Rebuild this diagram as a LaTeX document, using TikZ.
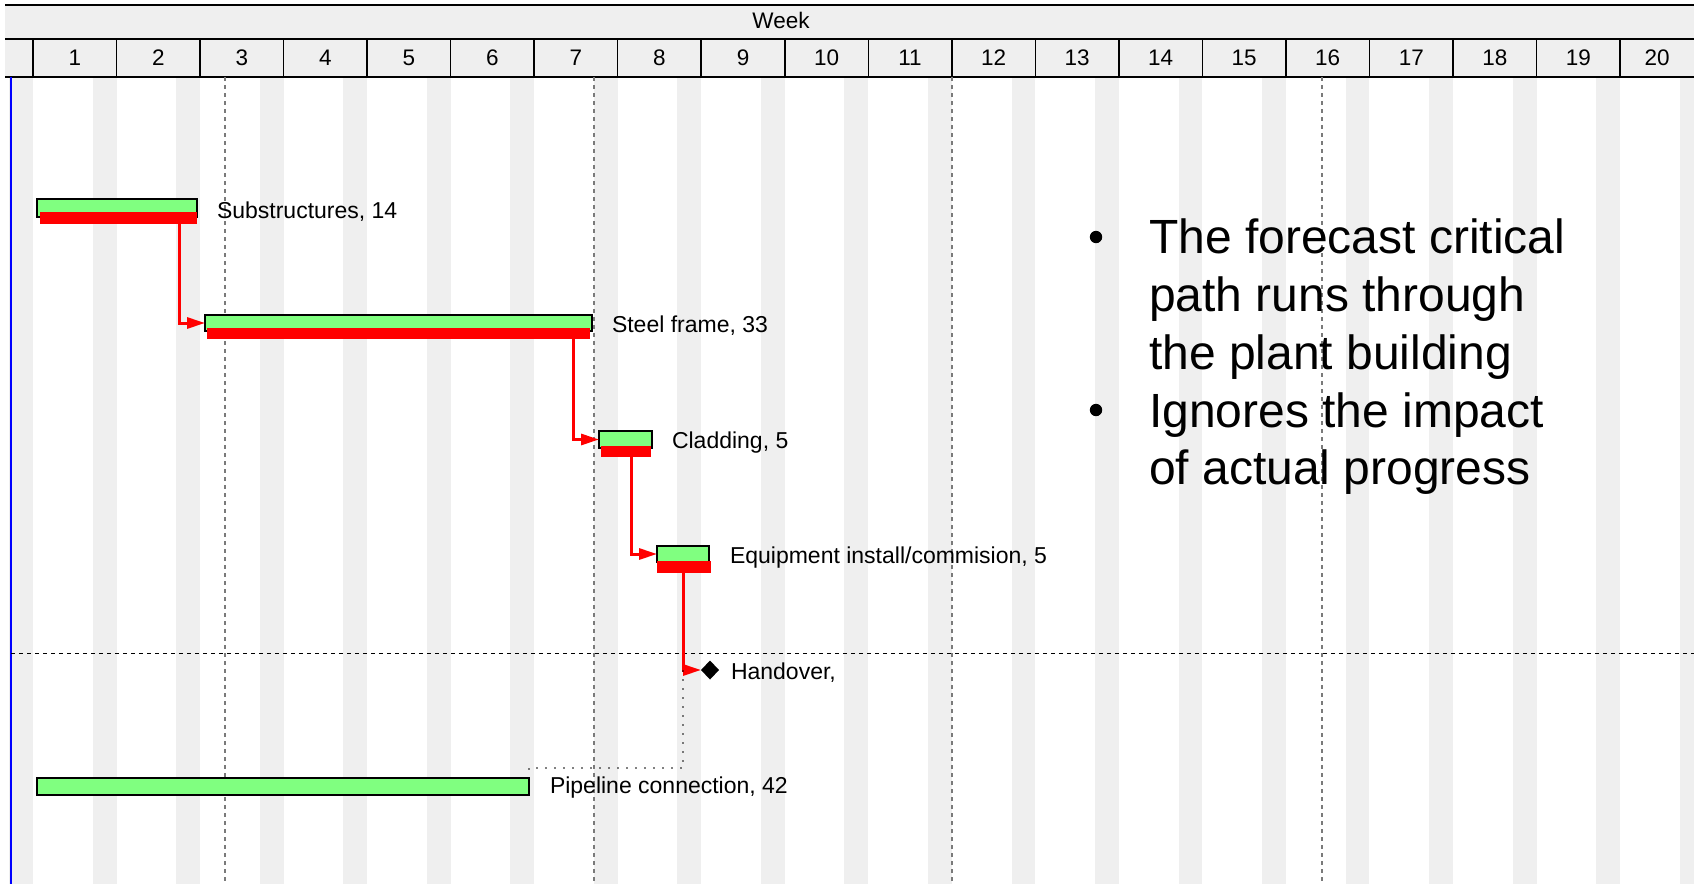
\documentclass[tikz,border=0pt]{standalone}
\usepackage{fontspec}
\setmainfont{Liberation Sans}
\usetikzlibrary{arrows.meta,shapes.geometric}
\definecolor{band}{HTML}{EFEFEF}
\definecolor{barfill}{HTML}{80FF80}
\definecolor{critred}{HTML}{FF0000}
\definecolor{gridgray}{HTML}{7A7A7A}

\begin{document}
\begin{tikzpicture}[x=1pt,y=-1pt,
  every node/.style={inner sep=0pt,outer sep=0pt},
  hdr/.style={anchor=base,font=\fontsize{22.5}{27}\selectfont},
  lbl/.style={anchor=base west,font=\fontsize{23}{27}\selectfont},
  bullettext/.style={anchor=base west,font=\fontsize{48}{58}\selectfont},
  taskbar/.style={rectangle,draw=black,line width=1.5pt,fill=barfill,anchor=north west,minimum height=17pt},
  critbar/.style={rectangle,fill=critred,anchor=north west},
  critlink/.style={draw=critred,line width=3pt,-{Triangle[length=18pt,width=11pt]}},
  dotlink/.style={draw=black,line width=1.6pt,line cap=round,dash pattern=on 0pt off 9pt},
  monthline/.style={draw=gridgray,line width=1.3pt,dash pattern=on 3.5pt off 4.5pt},
  cutline/.style={draw=black,line width=1pt,dash pattern=on 4pt off 4pt},
]
\useasboundingbox (0,0) rectangle (1694,884);
\clip (0,0) rectangle (1694,884);

% weekend stripes (two days at the end of every week)
\foreach \k in {0,...,20}{
  \fill[band] ({33+83.53*(\k-1)+59.66},77) rectangle ({33+83.53*\k},884);
}

% header bands
\fill[band] (5,5) rectangle (1694,77);
\draw[line width=2.5pt] (5,5) -- (1694,5);
\draw[line width=2pt] (5,39) -- (1694,39);
\draw[line width=2.5pt] (5,77) -- (1694,77);
\foreach \k in {0,...,19}{
  \draw[line width=1.5pt] ({33+83.53*\k},39) -- ({33+83.53*\k},77);
}
\node[hdr] (week) at (781,28) {Week};
\foreach \k in {1,...,19}{
  \node[hdr] (w\k) at ({33+83.53*(\k-0.5)},65) {\k};
}
\node[hdr] (w20) at (1657,65) {20};

% time line and month boundaries
\draw[blue,line width=2pt] (11,77) -- (11,884);
\foreach \xx in {225,594,952,1322}{
  \draw[monthline] (\xx,77) -- (\xx,884);
}
\draw[cutline] (11,653) -- (1694,653);

% task bars
\node[taskbar,minimum width=160pt,minimum height=18pt] (g1) at (37,199) {};
\node[critbar,minimum width=157pt,minimum height=12pt] (r1) at (40,212) {};
\node[lbl] (t1) at (217,218) {Substructures, 14};

\node[taskbar,minimum width=387pt,minimum height=16pt] (g2) at (205,315) {};
\node[critbar,minimum width=383pt,minimum height=11pt] (r2) at (207,328) {};
\node[lbl] (t2) at (612,332) {Steel frame, 33};

\node[taskbar,minimum width=53pt] (g3) at (599,431) {};
\node[critbar,minimum width=50pt,minimum height=11pt] (r3) at (601,446) {};
\node[lbl] (t3) at (672,448) {Cladding, 5};

\node[taskbar,minimum width=52pt,minimum height=16pt] (g4) at (657,546) {};
\node[critbar,minimum width=54pt,minimum height=12pt] (r4) at (657,561) {};
\node[lbl] (t4) at (730,563) {Equipment install/commision, 5};

\node[diamond,fill=black,minimum width=18pt,minimum height=19pt] (hand) at (710,670) {};
\node[lbl] (t5) at (731,679) {Handover,};

\node[taskbar,minimum width=492pt] (g6) at (37,778) {};
\node[lbl] (t6) at (550,793) {Pipeline connection, 42};

% critical path links
\draw[critlink] ([xshift=-18pt]r1.south east) |- (g2.west);
\draw[critlink] ([xshift=-17pt]r2.south east) |- (g3.west);
\draw[critlink] ([xshift=-20pt]r3.south east) |- (g4.west);
\draw[critlink] ([xshift=-28pt]r4.south east) |- (hand.west);

% non-critical link
\draw[dotlink] (g6.north east) -- ++(0,-10) -| ([xshift=-18pt]hand.west);

% notes
\fill (1096,237) circle (6.2pt);
\fill (1096,410) circle (6.2pt);
\node[bullettext] (n1) at (1149,253.6) {The forecast critical};
\node[bullettext] (n2) at (1149,311.4) {path runs through};
\node[bullettext] (n3) at (1149,369.2) {the plant building};
\node[bullettext] (n4) at (1149,427) {Ignores the impact};
\node[bullettext] (n5) at (1149,484.8) {of actual progress};
\end{tikzpicture}
\end{document}
